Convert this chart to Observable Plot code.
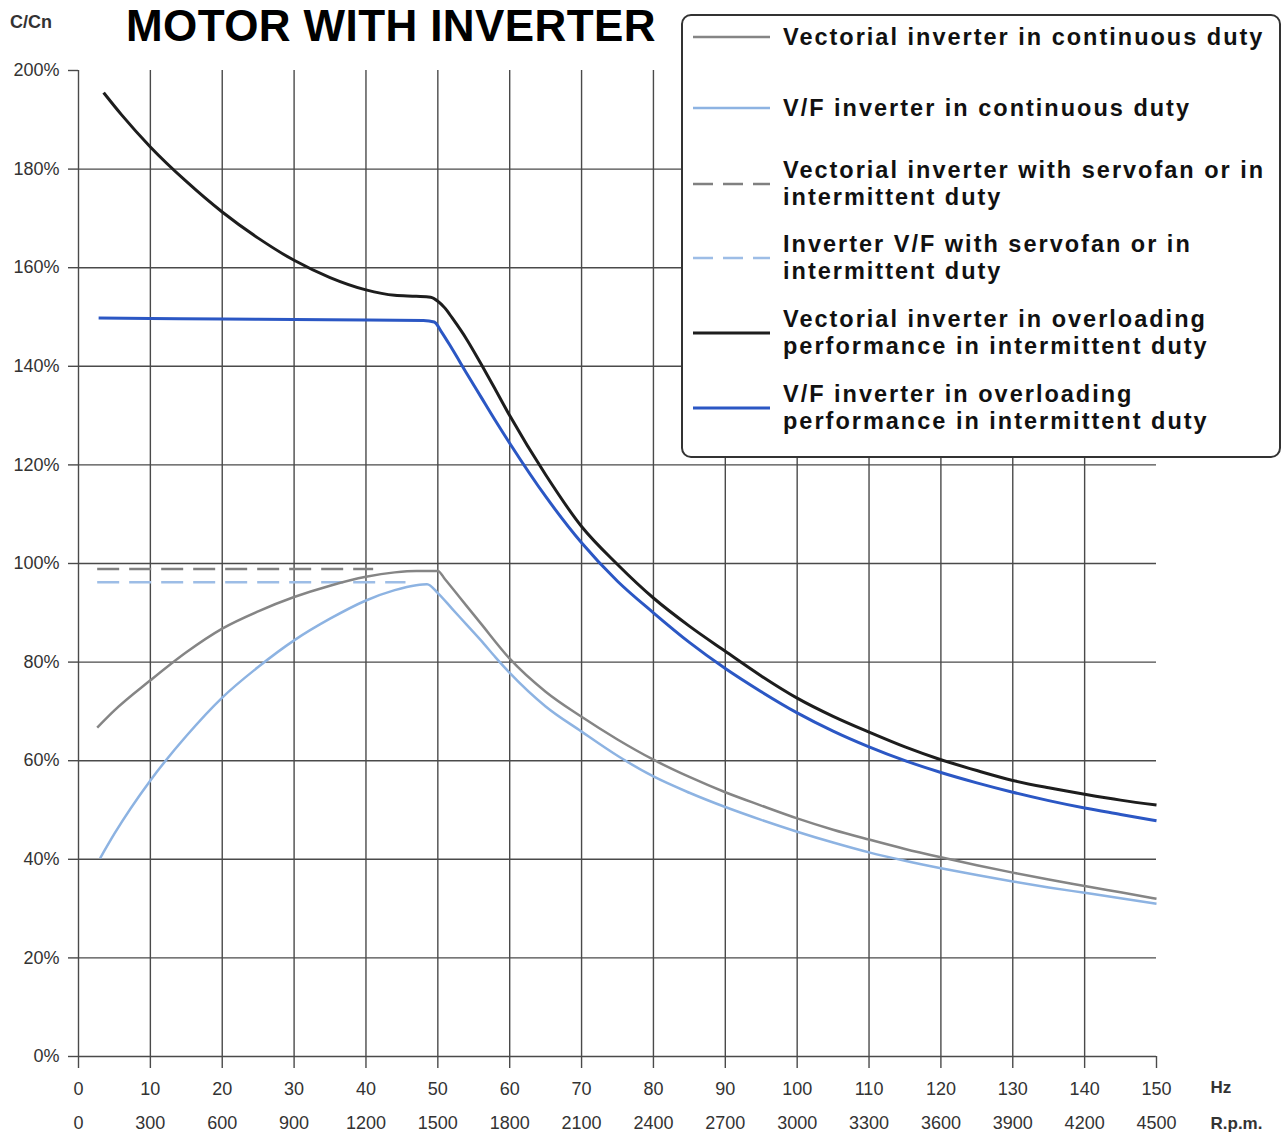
<!DOCTYPE html>
<html>
<head>
<meta charset="utf-8">
<script src="https://cdn.jsdelivr.net/npm/d3@7"></script>
<script src="https://cdn.jsdelivr.net/npm/@observablehq/plot@0.6"></script>
<style>
  html, body { margin: 0; padding: 0; background: #fff; }
  #wrap { position: relative; width: 1284px; height: 1138px; overflow: hidden; font-family: "Liberation Sans", Arial, Helvetica, sans-serif; }
  #head { position: relative; height: 45px; }
  #title { position: absolute; left: 126px; top: 0px; font-size: 44px; line-height: 51px; height: 51px; font-weight: bold; letter-spacing: 0.4px; color: #000; white-space: nowrap; }
  #ylab { position: absolute; left: 10px; top: 12px; font-size: 18px; line-height: 21px; font-weight: bold; color: #333; }
  #legend { position: absolute; left: 681px; top: 14px; width: 596px; height: 440px; border: 2px solid #333; border-radius: 10px; background: #fff; }
  .entry { position: absolute; left: 0; height: 60px; display: flex; align-items: center; }
  .entry svg { margin-left: 10px; flex: none; }
  .entry .lab { margin-left: 13px; }
  .entry .ln { height: 27px; line-height: 27px; font-size: 23.5px; font-weight: bold; letter-spacing: 2px; color: #111; white-space: nowrap; }
</style>
</head>
<body>
<div id="wrap">
  <div id="head"><div id="ylab">C/Cn</div><div id="title">MOTOR WITH INVERTER</div></div>
  <div id="chart"></div>
  <div id="legend"></div>
</div>
<script>
// ---- tick labels ----
const hzTicks = [0, 10, 20, 30, 40, 50, 60, 70, 80, 90, 100, 110, 120, 130, 140, 150];
const rpmTicks = [0, 300, 600, 900, 1200, 1500, 1800, 2100, 2400, 2700, 3000, 3300, 3600, 3900, 4200, 4500];
const gridXTicks = [0, 10, 20, 30, 40, 50, 60, 70, 80, 90, 100, 110, 120, 130, 140];
const yTicks = [0, 20, 40, 60, 80, 100, 120, 140, 160, 180, 200];
const gridYTicks = [0, 20, 40, 60, 80, 100, 120, 140, 160, 180];

// ---- series names ----
const seriesNames = [
  ["Vectorial inverter in continuous duty"],
  ["V/F inverter in continuous duty"],
  ["Vectorial inverter with servofan or in", "intermittent duty"],
  ["Inverter V/F with servofan or in", "intermittent duty"],
  ["Vectorial inverter in overloading", "performance in intermittent duty"],
  ["V/F inverter in overloading", "performance in intermittent duty"]
];

// ---- series values (Hz, % of C/Cn) ----
const vecContHz  = [2.6, 5, 10, 15, 20, 25, 30, 35, 40, 44, 47, 50, 51, 53, 56, 60, 65, 70, 75, 80, 85, 90, 95, 100, 105, 110, 115, 120, 125, 130, 135, 140, 145, 150];
const vecContVal = [66.7, 70.2, 76.3, 82, 86.8, 90.3, 93.2, 95.5, 97.3, 98.2, 98.5, 98.5, 96.8, 93.2, 87.8, 80.7, 74.0, 68.9, 64.3, 60.2, 56.7, 53.6, 50.9, 48.3, 46, 44, 42.1, 40.4, 38.8, 37.3, 35.9, 34.6, 33.3, 32];

const vfContHz  = [3, 5, 10, 15, 20, 25, 30, 35, 40, 44, 47, 48.5, 50, 52, 54, 56, 58, 60, 65, 70, 75, 80, 85, 90, 95, 100, 105, 110, 115, 120, 125, 130, 135, 140, 145, 150];
const vfContVal = [40.2, 45.2, 56, 65, 72.8, 79, 84.4, 88.8, 92.5, 94.6, 95.6, 95.8, 94.0, 90.8, 87.6, 84.4, 81, 77.8, 71, 65.9, 61, 56.8, 53.5, 50.6, 48, 45.6, 43.4, 41.4, 39.7, 38.2, 36.8, 35.5, 34.3, 33.2, 32.1, 31];

const vecServoHz  = [2.6, 41];
const vecServoVal = [98.9, 98.9];

const vfServoHz  = [2.6, 45.5];
const vfServoVal = [96.2, 96.2];

const vecOverHz  = [3.5, 6, 10, 15, 20, 25, 30, 35, 40, 44, 47, 49, 50, 51, 52, 54, 56, 58, 60, 65, 70, 75, 80, 85, 90, 95, 100, 105, 110, 115, 120, 125, 130, 135, 140, 145, 150];
const vecOverVal = [195.5, 191, 184.5, 177.5, 171.3, 166, 161.5, 158, 155.5, 154.4, 154.2, 154, 153.2, 151.8, 149.8, 145.5, 140.5, 135.3, 130, 118, 107.5, 99.8, 93, 87.3, 82.2, 77.2, 72.7, 69, 65.8, 62.8, 60.2, 58, 56, 54.5, 53.2, 52, 51];

const vfOverHz  = [2.8, 10, 20, 30, 40, 48, 49.5, 50.5, 52, 54, 56, 58, 60, 65, 70, 75, 80, 85, 90, 95, 100, 105, 110, 115, 120, 125, 130, 135, 140, 145, 150];
const vfOverVal = [149.8, 149.7, 149.6, 149.5, 149.4, 149.3, 149, 147, 143.5, 138.6, 133.8, 129, 124.4, 113.6, 104.2, 96.4, 90, 84, 78.7, 74, 69.7, 66, 62.8, 60, 57.6, 55.5, 53.6, 51.9, 50.4, 49.1, 47.8];

// ---- styles ----
const seriesStyle = [
  {stroke: "#858585", width: 2.5, dash: null},
  {stroke: "#8db3e2", width: 2.5, dash: null},
  {stroke: "#808080", width: 2.5, dash: "22,10"},
  {stroke: "#9dbde6", width: 2.5, dash: "22,10"},
  {stroke: "#1d1d1d", width: 3, dash: null},
  {stroke: "#2b57c4", width: 3, dash: null}
];

const seriesData = [
  [vecContHz, vecContVal],
  [vfContHz, vfContVal],
  [vecServoHz, vecServoVal],
  [vfServoHz, vfServoVal],
  [vecOverHz, vecOverVal],
  [vfOverHz, vfOverVal]
];

const table = (hz, v) => hz.map((h, i) => ({hz: h, v: v[i]}));

const gridColor = "#4a4a4a";
const lineMarks = [];
// draw order: servofan dashed first, then continuous, then overloading
[2, 3, 0, 1, 4, 5].forEach(k => {
  const s = seriesStyle[k];
  lineMarks.push(Plot.line(table(seriesData[k][0], seriesData[k][1]), {
    x: "hz", y: "v", stroke: s.stroke, strokeWidth: s.width,
    strokeDasharray: s.dash, curve: "monotone-x", strokeLinecap: "butt", strokeLinejoin: "round"
  }));
});

const chart = Plot.plot({
  width: 1284,
  height: 1093,
  marginLeft: 78,
  marginRight: 128,
  marginTop: 25,
  marginBottom: 82,
  x: {domain: [0, 150]},
  y: {domain: [0, 200]},
  style: {fontFamily: "'Liberation Sans', Arial, Helvetica, sans-serif", fontSize: "18px", color: "#333", background: "#fff"},
  marks: [
    Plot.gridY(gridYTicks, {stroke: gridColor, strokeOpacity: 1, strokeWidth: 1.4}),
    Plot.gridX(gridXTicks, {stroke: gridColor, strokeOpacity: 1, strokeWidth: 1.4}),
    Plot.axisY(yTicks, {tickSize: 10, tickPadding: 9, tickFormat: d => d + "%", stroke: gridColor, strokeWidth: 1.4, fontSize: 18, label: null}),
    Plot.axisX(hzTicks, {tickSize: 12, tickPadding: 14, tickFormat: d => String(d), stroke: gridColor, strokeWidth: 1.4, fontSize: 18, label: null}),
    Plot.axisX(hzTicks, {tickSize: 0, tickPadding: 60, tickFormat: d => String(rpmTicks[hzTicks.indexOf(d)]), fontSize: 18, label: null}),
    Plot.text(["Hz"], {text: d => d, frameAnchor: "bottom-right", dx: 54, dy: 36, textAnchor: "start", fontWeight: "bold", fontSize: 17, fill: "#333"}),
    Plot.text(["R.p.m."], {text: d => d, frameAnchor: "bottom-right", dx: 54, dy: 72, textAnchor: "start", fontWeight: "bold", fontSize: 17, fill: "#333"}),
    ...lineMarks
  ]
});
document.getElementById("chart").appendChild(chart);

// ---- legend (HTML overlay) ----
const legendCenters = [37, 108, 184, 258, 333, 408]; // page y of each entry's centre
const legend = document.getElementById("legend");
seriesNames.forEach((lines, k) => {
  const s = seriesStyle[k];
  const e = document.createElement("div");
  e.className = "entry";
  e.style.top = (legendCenters[k] - 16 - 30) + "px";
  const sw = d3.create("svg").attr("width", 77).attr("height", 8);
  sw.append("line").attr("x1", 0).attr("x2", 77).attr("y1", 4).attr("y2", 4)
    .attr("stroke", s.stroke).attr("stroke-width", s.width)
    .attr("stroke-dasharray", s.dash ? "20,10" : null);
  e.appendChild(sw.node());
  const lab = document.createElement("div");
  lab.className = "lab";
  lines.forEach(t => {
    const ln = document.createElement("div");
    ln.className = "ln";
    ln.textContent = t;
    lab.appendChild(ln);
  });
  e.appendChild(lab);
  legend.appendChild(e);
});
</script>
</body>
</html>
